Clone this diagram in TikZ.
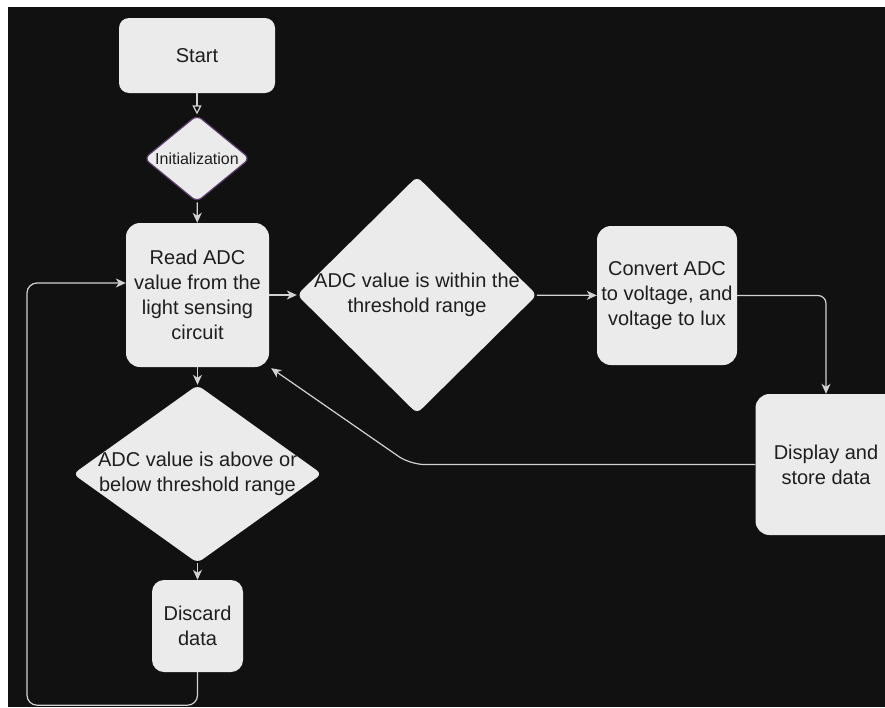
\documentclass[tikz,border=0pt]{standalone}
\usepackage{fontspec}
\setmainfont{Liberation Sans}
\usetikzlibrary{shapes.geometric, arrows.meta}
\definecolor{bgdark}{HTML}{111111}
\definecolor{boxfill}{HTML}{EBEBEB}
\definecolor{boxtext}{HTML}{1E1E1E}
\definecolor{linegray}{HTML}{D2D2D2}
\definecolor{initedge}{HTML}{5B3D6E}

\begin{document}
\begin{tikzpicture}[x=1pt, y=-1pt,
  box/.style={rectangle, rounded corners=14pt, fill=boxfill, text=boxtext, align=center,
    inner sep=0pt, font=\fontsize{20}{25}\selectfont},
  decision/.style={diamond, rounded corners=6pt, fill=boxfill, inner sep=0pt},
  inside/.style={text=boxtext, align=center, inner sep=0pt, font=\fontsize{20}{25}\selectfont},
  flow/.style={draw=linegray, line width=1.2pt, -{Stealth[length=10pt,width=9pt,inset=3pt]}}]
\useasboundingbox (0,0) rectangle (885,707);
\fill[white] (0,0) rectangle (885,707);
\fill[bgdark] (8,7) rectangle (885,707);

% steps
\node[box, minimum width=156pt, minimum height=75pt, rounded corners=10pt] (start) at (197,55.5) {Start};
\node[decision, minimum width=106pt, minimum height=87pt, draw=initedge, line width=1.2pt] (init) at (197,158.5) {};
\node[inside, font=\fontsize{16}{19}\selectfont] (inittext) at (init) {Initialization};
\node[box, minimum width=143pt, minimum height=144pt] (read) at (197.5,295) {Read ADC\\value from the\\light sensing\\circuit};
\node[decision, minimum width=240pt, minimum height=237pt] (within) at (417,295) {};
\node[inside] (withintext) at (within) {ADC value is within the\\threshold range};
\node[box, minimum width=140pt, minimum height=139pt] (convert) at (667,295.5) {Convert ADC\\to voltage, and\\voltage to lux};
\node[box, minimum width=141pt, minimum height=141pt] (display) at (826,464.5) {Display and\\store data};
\node[decision, minimum width=249pt, minimum height=178pt] (below) at (197.5,474) {};
\node[inside] (belowtext) at (below) {ADC value is above or\\below threshold range};
\node[box, minimum width=91pt, minimum height=92pt, rounded corners=12pt] (discard) at (197.5,626) {Discard\\data};

% connectors
\draw[flow, -{Triangle[open,length=9pt,width=9pt]}] (start) -- (init);
\draw[flow] (init) -- (read);
\draw[flow] (read) -- (within);
\draw[flow] (within) -- (convert);
\draw[flow, rounded corners=8pt] (convert.east) -| (display.north);
\draw[flow, rounded corners=14pt] (display.west) -- ++(-345,0) -- ([xshift=2pt,yshift=-1pt]read.south east);
\draw[flow] (read) -- (below);
\draw[flow] (below) -- (discard);
\draw[flow, rounded corners=10pt] (discard.south) -- ++(0,33) -| (27,283) -- ([yshift=12pt]read.west);
\end{tikzpicture}
\end{document}
